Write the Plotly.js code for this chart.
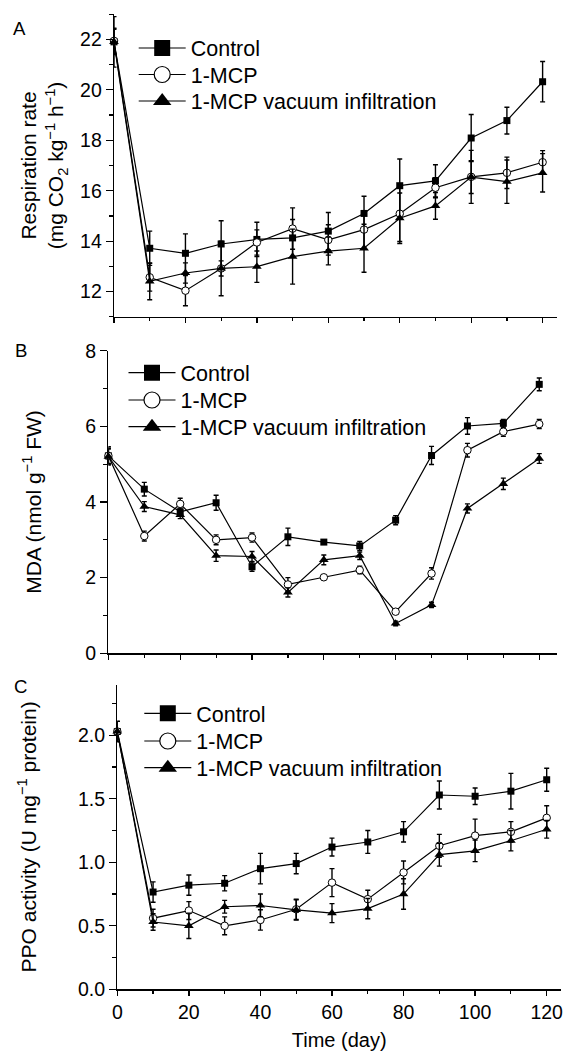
<!DOCTYPE html>
<html><head><meta charset="utf-8">
<script src="https://cdn.plot.ly/plotly-3.0.1.min.js"></script>
<style>html,body{margin:0;padding:0;background:#fff}</style>
</head><body>
<div id="chart" style="width:565px;height:1051px"></div>
<script>
// ---- data ----
const days = [0, 10, 20, 30, 40, 50, 60, 70, 80, 90, 100, 110, 120];
const seriesNames = ['Control', '1-MCP', '1-MCP vacuum infiltration'];

// Panel A: respiration rate (mg CO2 kg-1 h-1)
const respControl    = [21.9, 13.72, 13.52, 13.89, 14.07, 14.13, 14.40, 15.10, 16.20, 16.39, 18.09, 18.78, 20.32];
const respControlErr = [1.0, 0.68, 0.77, 0.92, 0.68, 0.73, 0.74, 0.68, 1.06, 0.64, 0.93, 0.53, 0.80];
const resp1MCP       = [21.94, 12.57, 12.04, 12.92, 13.95, 14.50, 14.05, 14.46, 15.09, 16.12, 16.55, 16.71, 17.13];
const resp1MCPErr    = [0.5, 0.55, 0.60, 1.08, 0.50, 0.82, 0.60, 0.75, 1.10, 0.40, 1.05, 0.62, 0.46];
const respVI         = [21.9, 12.41, 12.74, 12.92, 12.99, 13.39, 13.61, 13.72, 14.91, 15.40, 16.54, 16.36, 16.71];
const respVIErr      = [0.5, 0.73, 0.40, 0.30, 0.62, 1.09, 0.55, 0.95, 1.00, 0.53, 0.65, 0.86, 0.76];

// Panel B: MDA (nmol g-1 FW)
const mdaControl    = [5.22, 4.34, 3.74, 3.98, 2.29, 3.08, 2.94, 2.84, 3.52, 5.23, 6.01, 6.08, 7.11];
const mdaControlErr = [0.24, 0.18, 0.10, 0.20, 0.12, 0.23, 0.06, 0.12, 0.12, 0.24, 0.22, 0.10, 0.17];
const mda1MCP       = [5.22, 3.10, 3.95, 3.00, 3.06, 1.82, 2.01, 2.20, 1.10, 2.11, 5.37, 5.86, 6.06];
const mda1MCPErr    = [0.20, 0.13, 0.15, 0.13, 0.12, 0.18, 0.06, 0.10, 0.06, 0.15, 0.18, 0.12, 0.12];
const mdaVI         = [5.20, 3.88, 3.66, 2.58, 2.56, 1.61, 2.47, 2.58, 0.79, 1.28, 3.83, 4.48, 5.15];
const mdaVIErr      = [0.20, 0.13, 0.10, 0.15, 0.13, 0.12, 0.13, 0.10, 0.06, 0.07, 0.12, 0.15, 0.13];

// Panel C: PPO activity (U mg-1 protein)
const ppoControl    = [2.03, 0.766, 0.82, 0.835, 0.95, 0.99, 1.12, 1.16, 1.24, 1.53, 1.52, 1.56, 1.65];
const ppoControlErr = [0.08, 0.08, 0.08, 0.06, 0.12, 0.08, 0.07, 0.09, 0.08, 0.11, 0.065, 0.14, 0.09];
const ppo1MCP       = [2.03, 0.56, 0.62, 0.50, 0.546, 0.63, 0.84, 0.71, 0.92, 1.13, 1.21, 1.24, 1.35];
const ppo1MCPErr    = [0.08, 0.07, 0.07, 0.07, 0.08, 0.08, 0.11, 0.07, 0.09, 0.09, 0.13, 0.08, 0.095];
const ppoVI         = [2.03, 0.53, 0.50, 0.65, 0.66, 0.625, 0.60, 0.635, 0.75, 1.06, 1.09, 1.17, 1.26];
const ppoVIErr      = [0.08, 0.065, 0.10, 0.05, 0.09, 0.08, 0.075, 0.08, 0.12, 0.09, 0.085, 0.08, 0.07];

const xTickVals = [0, 20, 40, 60, 80, 100, 120];

// ---- styles ----
const FONT = 'Liberation Sans, Arial, Helvetica, sans-serif';
const H = 1051, W = 565;
function px(v) { return v / W; }
function py(v) { return 1 - v / H; }

const markerStyles = [
  {symbol: 'square', size: 7, color: '#000', line: {color: '#000', width: 0}},
  {symbol: 'circle', size: 7.5, color: '#fff', line: {color: '#000', width: 1}},
  {symbol: 'triangle-up', size: 8.5, color: '#000', line: {color: '#000', width: 0}}
];
const legendMarkers = [
  {symbol: 'square', size: 16, color: '#000', line: {color: '#000', width: 0}},
  {symbol: 'circle', size: 16, color: '#fff', line: {color: '#000', width: 1.2}},
  {symbol: 'triangle-up', size: 16, color: '#000', line: {color: '#000', width: 0}}
];

// legend placement (pixels): left edge of each panel's legend box and row centres
const legendLeft = [133.7, 123.5, 139.3];
const legendRowCenters = [[48, 74.5, 101], [372.7, 400, 426.7], [713.3, 741, 767.7]];

const panels = [
  {x: 'x', y: 'y', vals: [respControl, resp1MCP, respVI], errs: [respControlErr, resp1MCPErr, respVIErr]},
  {x: 'x2', y: 'y2', vals: [mdaControl, mda1MCP, mdaVI], errs: [mdaControlErr, mda1MCPErr, mdaVIErr]},
  {x: 'x3', y: 'y3', vals: [ppoControl, ppo1MCP, ppoVI], errs: [ppoControlErr, ppo1MCPErr, ppoVIErr]}
];

const LEG_FONT = 21.5;
const legendBase = {
  bgcolor: 'rgba(0,0,0,0)', borderwidth: 0, xanchor: 'left', yanchor: 'top',
  font: {family: FONT, size: LEG_FONT, color: '#000'}, itemwidth: 47,
  itemclick: false, itemdoubleclick: false
};
const legendHalf = 5 + (LEG_FONT * 1.3 + 3) / 2;

const traces = [];
const legends = {};
panels.forEach((p, k) => {
  for (let i = 0; i < 3; i++) {
    traces.push({
      type: 'scatter', mode: 'lines+markers', x: days, y: p.vals[i],
      xaxis: p.x, yaxis: p.y, name: seriesNames[i], showlegend: false,
      line: {color: '#000', width: 1.2},
      marker: markerStyles[i],
      error_y: {type: 'data', array: p.errs[i], visible: true, color: '#000', thickness: 1.4, width: 2.5},
      cliponaxis: false
    });
  }
  for (let i = 0; i < 3; i++) {
    const n = k * 3 + i + 1;
    const legName = n === 1 ? 'legend' : 'legend' + n;
    legends[legName] = Object.assign({}, legendBase, {
      x: px(legendLeft[k]), y: py(legendRowCenters[k][i] - legendHalf)
    });
    traces.push({
      type: 'scatter', mode: 'lines+markers', x: [null], y: [null],
      xaxis: p.x, yaxis: p.y, legend: legName, showlegend: true,
      name: seriesNames[i],
      line: {color: '#000', width: 1.2},
      marker: legendMarkers[i]
    });
  }
});

const tickFont = {family: FONT, size: 19.5, color: '#000'};
const titleFont = {family: FONT, size: 21, color: '#000'};

function xAxis(domain, range, showLabels, anchor, title) {
  const ax = {
    domain: domain, range: range, anchor: anchor, automargin: false,
    showgrid: false, zeroline: false, showline: true, linecolor: '#000', linewidth: 1.3,
    ticks: 'outside', ticklen: 5, tickwidth: 1.3, tickcolor: '#000',
    tickvals: xTickVals, showticklabels: showLabels, tickfont: tickFont,
    minor: {dtick: 10, tick0: 0, ticks: 'outside', ticklen: 3, tickwidth: 1.2, tickcolor: '#000', showgrid: false}
  };
  if (title) ax.title = {text: title, font: {family: FONT, size: 20, color: '#000'}, standoff: 12};
  return ax;
}
function yAxis(domain, range, tick0, dtick, minorDtick, fmt, anchor, title, standoff) {
  return {
    domain: domain, range: range, anchor: anchor, automargin: false,
    showgrid: false, zeroline: false, showline: true, linecolor: '#000', linewidth: 1.3,
    ticks: 'outside', ticklen: 7, tickwidth: 1.3, tickcolor: '#000',
    tick0: tick0, dtick: dtick, tickformat: fmt, tickfont: tickFont,
    minor: {dtick: minorDtick, ticks: 'outside', ticklen: 4, tickwidth: 1.2, tickcolor: '#000', showgrid: false},
    title: {text: title, font: titleFont, standoff: standoff}
  };
}

const layout = Object.assign({
  width: W, height: H, margin: {l: 0, r: 0, t: 0, b: 0},
  paper_bgcolor: '#fff', plot_bgcolor: 'rgba(0,0,0,0)',
  font: {family: FONT, color: '#000'},
  xaxis:  xAxis([px(114), px(556.9)], [0, 124], false, 'y'),
  yaxis:  yAxis([py(316.9), py(14.1)], [11, 23], 12, 2, 1, 'd', 'x',
            'Respiration rate<br>(mg CO<sub>2</sub> kg<sup>−1</sup> h<sup>−1</sup>)', 10),
  xaxis2: xAxis([px(108.4), px(557.2)], [0, 125], false, 'y2'),
  yaxis2: yAxis([py(653.3), py(350.7)], [0, 8], 0, 2, 1, 'd', 'x2',
            'MDA (nmol g<sup>−1</sup> FW)', 38),
  xaxis3: xAxis([px(117.3), px(561.0)], [0, 124], true, 'y3', 'Time (day)'),
  yaxis3: yAxis([py(989.3), py(684.5)], [0, 2.4], 0, 0.5, 0.25, '.1f', 'x3',
            'PPO activity (U mg<sup>−1</sup> protein)', 35),
  annotations: [
    {text: 'A', xref: 'paper', yref: 'paper', x: px(19.5), y: py(28.5), xanchor: 'center', yanchor: 'middle', showarrow: false, font: {family: FONT, size: 18.6, color: '#000'}},
    {text: 'B', xref: 'paper', yref: 'paper', x: px(20.7), y: py(350), xanchor: 'center', yanchor: 'middle', showarrow: false, font: {family: FONT, size: 18.6, color: '#000'}},
    {text: 'C', xref: 'paper', yref: 'paper', x: px(20.7), y: py(686.7), xanchor: 'center', yanchor: 'middle', showarrow: false, font: {family: FONT, size: 18.6, color: '#000'}}
  ],
  showlegend: true,
  hovermode: false
}, legends);

Plotly.newPlot('chart', traces, layout, {staticPlot: true, displayModeBar: false});
</script>
</body></html>
